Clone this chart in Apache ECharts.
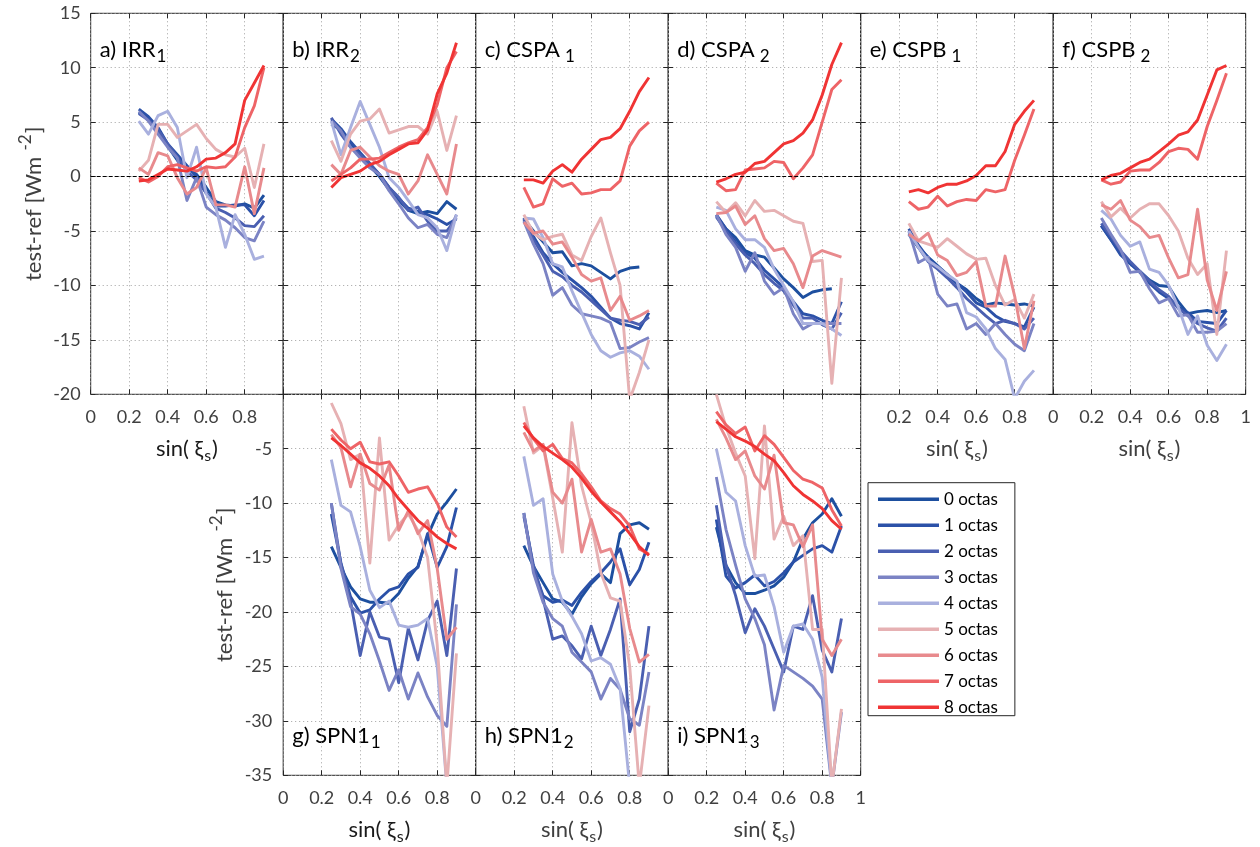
<!DOCTYPE html>
<html>
<head>
<meta charset="utf-8">
<script src="https://cdn.jsdelivr.net/npm/echarts@6/dist/echarts.min.js"></script>
<style>html,body{margin:0;padding:0;background:#fff}#c{width:1260px;height:847px}</style>
</head>
<body>
<div id="c"></div>
<script>
// ---------- data ----------
const xs = [0.25,0.30,0.35,0.40,0.45,0.50,0.55,0.60,0.65,0.70,0.75,0.80,0.85,0.90];
const octaNames = ['0 octas','1 octas','2 octas','3 octas','4 octas','5 octas','6 octas','7 octas','8 octas'];
const xTickLabels = ['0','0.2','0.4','0.6','0.8','1'];
const yTopTicks = [-20,-15,-10,-5,0,5,10,15];
const yBottomTicks = [-35,-30,-25,-20,-15,-10,-5];

const irr1 = [
  [5.9,5.3,4.2,2.8,1.5,0.8,0.2,-1.0,-2.3,-2.6,-2.7,-2.5,-2.9,-1.7],
  [6.2,5.5,4.5,3.0,2.0,1.0,0.0,-1.5,-2.7,-2.7,-2.6,-2.6,-3.6,-2.2],
  [5.8,5.2,4.3,3.0,1.8,0.5,-0.3,-1.5,-2.9,-3.3,-3.8,-4.5,-4.6,-3.6],
  [6.0,5.1,3.9,2.7,1.7,-2.2,-0.1,-2.8,-3.5,-4.0,-4.7,-5.6,-5.9,-4.1],
  [5.1,3.9,5.6,6.0,4.5,-0.1,2.7,-1.6,-2.8,-6.5,-3.5,-5.3,-7.6,-7.3],
  [0.5,1.5,4.8,4.8,3.6,4.2,4.8,3.5,2.5,2.0,1.8,2.6,-1.0,3.0],
  [0.8,0.2,2.2,1.9,-0.1,-1.6,-1.0,0.8,-2.6,-2.6,-2.8,0.9,-3.4,0.8],
  [-0.1,-0.5,0.0,0.9,1.1,0.8,0.5,0.9,0.8,0.9,1.8,4.5,6.5,10.0],
  [-0.4,-0.3,0.2,0.7,0.6,0.5,0.9,1.6,1.7,2.2,3.0,7.0,8.6,10.2]
];
const irr2 = [
  [4.8,4.3,3.0,2.0,1.0,0.0,-1.2,-2.2,-3.1,-3.4,-3.2,-3.4,-2.3,-3.0],
  [5.3,4.4,3.2,2.2,1.2,0.2,-1.0,-2.0,-2.9,-3.2,-3.5,-3.9,-4.4,-3.9],
  [5.4,3.9,2.7,2.0,1.1,0.2,-1.0,-1.9,-3.1,-2.8,-4.1,-5.0,-5.0,-3.8],
  [5.1,4.2,2.7,1.7,0.8,0.2,-1.3,-2.5,-3.8,-4.7,-4.4,-5.3,-5.6,-3.5],
  [5.1,2.0,4.5,6.9,4.8,2.7,-0.1,-1.0,-2.2,-3.5,-3.8,-4.7,-6.8,-3.5],
  [3.3,1.4,3.9,5.1,5.3,6.2,4.0,4.3,4.6,4.6,3.9,6.0,2.4,5.6],
  [1.1,0.2,2.4,2.7,1.8,1.0,0.5,0.2,-1.6,-0.4,2.0,0.2,-1.6,3.0],
  [-0.4,0.2,0.8,1.6,1.6,1.7,2.2,2.7,3.1,3.4,4.5,6.6,10.0,11.5],
  [-1.0,-0.1,0.2,0.5,1.1,1.4,2.0,2.5,3.0,3.1,4.3,7.6,9.5,12.3]
];
const cspa1 = [
  [-3.9,-5.0,-6.0,-7.0,-6.9,-8.2,-8.0,-8.2,-8.8,-9.4,-8.7,-8.4,-8.3],
  [-3.8,-5.5,-7.0,-8.0,-8.8,-9.5,-10.2,-11.0,-12.0,-13.0,-13.5,-13.7,-14.0,-12.5],
  [-3.9,-5.8,-7.2,-8.7,-9.2,-10.0,-10.6,-11.4,-12.2,-13.0,-13.2,-13.3,-13.6,-12.9],
  [-4.1,-6.2,-8.0,-10.9,-10.2,-11.8,-12.6,-12.8,-13.0,-13.4,-15.8,-15.7,-15.2,-14.8],
  [-3.8,-3.9,-5.6,-8.0,-8.3,-10.5,-12.5,-14.5,-16.0,-16.6,-16.2,-16.0,-16.5,-17.7],
  [-3.5,-5.2,-5.8,-5.5,-5.3,-7.2,-7.7,-5.5,-3.8,-7.0,-10.0,-20.5,-18.0,-15.0],
  [-4.2,-5.2,-5.0,-6.2,-6.0,-7.4,-9.0,-9.6,-9.3,-12.3,-11.0,-13.2,-12.8,-12.3],
  [-1.0,-2.8,-2.5,-0.2,-0.9,-0.6,-1.6,-1.5,-1.2,-1.2,-0.4,2.8,4.2,5.0],
  [-0.3,-0.3,-0.6,0.5,1.1,0.4,1.6,2.5,3.4,3.6,4.4,6.0,7.8,9.1]
];
const cspa2 = [
  [-3.6,-4.8,-5.6,-6.8,-7.2,-7.4,-8.4,-9.4,-10.2,-11.1,-10.6,-10.4,-10.3],
  [-3.5,-4.8,-6.0,-7.0,-7.5,-8.6,-9.4,-10.2,-11.5,-12.6,-12.8,-13.2,-13.5,-11.5],
  [-3.7,-5.0,-6.2,-7.2,-8.0,-9.0,-9.8,-10.5,-11.8,-13.0,-13.0,-13.6,-14.0,-12.5],
  [-3.5,-5.3,-6.5,-8.7,-7.0,-9.6,-10.8,-10.2,-12.6,-14.0,-13.5,-13.5,-13.5,-13.5],
  [-2.8,-3.1,-4.8,-5.8,-5.8,-6.5,-8.5,-10.0,-11.5,-13.5,-13.5,-13.5,-14.0,-14.6],
  [-2.3,-3.3,-2.4,-3.6,-2.2,-3.2,-3.1,-3.6,-4.1,-4.3,-7.8,-7.7,-19.0,-9.3],
  [-3.4,-3.3,-2.7,-4.4,-3.6,-5.7,-6.8,-6.6,-8.0,-10.2,-7.3,-6.8,-7.1,-7.4],
  [-0.6,-1.3,-1.2,0.6,0.7,0.8,1.4,1.3,-0.2,0.8,2.0,5.0,8.0,8.9],
  [-0.5,-0.2,0.2,0.4,1.2,1.4,2.2,3.0,3.3,4.0,5.2,7.5,10.3,12.3]
];
const cspb1 = [
  [-5.3,-6.5,-7.4,-8.2,-9.0,-9.8,-10.4,-11.2,-11.8,-11.6,-11.7,-11.8,-11.7,-11.9],
  [-4.8,-6.3,-7.5,-8.3,-9.0,-9.8,-10.6,-11.6,-12.0,-12.8,-13.3,-13.5,-13.8,-12.0],
  [-5.2,-6.5,-7.8,-8.5,-9.3,-10.2,-11.2,-12.0,-12.8,-13.5,-13.2,-13.5,-14.0,-13.0],
  [-5.0,-7.9,-7.4,-10.8,-11.9,-11.7,-14.0,-13.5,-14.5,-13.5,-14.5,-15.4,-16.0,-13.5],
  [-5.0,-6.5,-7.7,-8.3,-9.0,-9.6,-12.5,-12.9,-14.0,-15.8,-16.8,-20.4,-18.8,-17.8],
  [-4.3,-5.9,-6.2,-6.5,-5.7,-6.4,-7.1,-7.6,-7.5,-10.0,-11.8,-11.3,-13.0,-10.8],
  [-5.3,-5.9,-5.2,-7.2,-7.7,-9.1,-8.8,-7.8,-11.9,-11.9,-7.3,-11.0,-15.8,-11.4],
  [-2.3,-3.0,-2.8,-1.8,-2.7,-2.3,-2.1,-2.2,-1.2,-1.4,-1.2,1.5,3.8,6.2],
  [-1.4,-1.2,-1.5,-1.0,-0.7,-0.7,-0.4,0.1,1.0,1.0,2.3,4.8,6.0,7.0]
];
const cspb2 = [
  [-4.5,-5.8,-7.0,-8.0,-8.7,-9.5,-10.0,-10.1,-11.5,-12.6,-12.4,-12.3,-12.5,-12.3],
  [-4.5,-5.8,-7.2,-8.0,-8.8,-9.8,-10.6,-11.2,-12.0,-12.5,-13.3,-13.4,-13.5,-12.3],
  [-4.3,-5.5,-6.8,-7.8,-8.7,-9.6,-10.4,-11.0,-12.1,-12.8,-13.5,-13.9,-14.2,-13.0],
  [-3.8,-5.3,-6.7,-8.8,-8.7,-10.3,-11.6,-11.2,-12.8,-12.7,-14.3,-14.3,-14.2,-13.5],
  [-3.1,-3.9,-5.4,-6.4,-6.0,-8.5,-8.8,-10.0,-12.0,-14.5,-12.8,-15.5,-16.9,-15.4],
  [-2.3,-3.7,-2.9,-3.8,-3.0,-2.5,-2.5,-3.6,-5.0,-7.5,-9.0,-8.0,-14.5,-6.8],
  [-2.6,-3.0,-2.2,-4.0,-4.6,-5.6,-5.4,-7.5,-9.3,-9.0,-3.0,-9.5,-12.3,-8.7],
  [-0.3,-0.7,-0.5,0.5,0.6,0.6,1.3,2.3,2.6,2.5,1.6,4.6,7.0,9.5],
  [-0.3,0.1,0.3,0.8,1.3,1.6,2.3,3.0,3.8,4.1,5.2,7.5,9.8,10.2]
];
const spn1a = [
  [-14.0,-15.9,-17.7,-18.8,-19.1,-19.1,-19.2,-18.3,-16.9,-15.8,-13.0,-11.0,-9.9,-8.7],
  [-11.0,-15.5,-18.6,-20.1,-19.8,-18.8,-18.0,-17.7,-16.5,-15.9,-12.8,-15.9,-14.0,-10.4],
  [-10.0,-15.6,-19.0,-24.0,-20.0,-22.3,-22.5,-26.5,-21.5,-24.4,-20.8,-19.0,-24.0,-16.0],
  [-10.0,-16.0,-19.5,-20.2,-22.0,-24.5,-27.2,-25.3,-28.0,-25.6,-27.8,-29.5,-30.5,-19.3],
  [-6.0,-10.2,-10.8,-14.0,-18.0,-19.6,-19.0,-21.2,-21.4,-21.2,-20.6,-25.0,-36.0],
  [-0.8,-2.7,-6.0,-5.5,-15.5,-4.0,-13.4,-12.0,-11.0,-12.5,-15.0,-23.0,-36.0,-23.8],
  [-3.7,-4.9,-8.5,-5.5,-8.2,-8.8,-6.5,-12.5,-10.7,-12.8,-11.6,-16.0,-22.5,-21.4],
  [-3.2,-4.2,-5.0,-4.4,-6.2,-6.4,-6.2,-7.5,-9.0,-8.7,-8.5,-10.0,-12.2,-13.1],
  [-4.0,-4.7,-5.5,-6.3,-6.8,-7.5,-8.4,-9.6,-10.6,-11.6,-12.3,-13.1,-13.7,-14.2]
];
const spn1b = [
  [-13.9,-15.8,-17.3,-18.8,-19.1,-20.2,-18.6,-17.4,-16.5,-17.3,-12.8,-12.0,-11.8,-12.4],
  [-10.9,-16.0,-18.5,-19.1,-18.9,-19.4,-18.2,-17.2,-16.4,-15.4,-14.2,-17.5,-16.1,-13.6],
  [-11.2,-15.7,-18.8,-22.5,-22.2,-23.1,-24.3,-21.3,-24.0,-21.6,-18.8,-31.0,-28.0,-21.3],
  [-10.9,-16.4,-19.1,-20.6,-21.3,-23.7,-24.6,-25.5,-28.0,-26.1,-27.1,-29.8,-30.4,-25.5],
  [-5.7,-10.2,-9.6,-16.5,-19.0,-20.4,-22.0,-24.5,-24.2,-24.8,-27.0,-36.0],
  [-1.1,-5.4,-4.7,-9.5,-14.5,-2.6,-8.4,-11.8,-16.4,-18.7,-19.0,-25.0,-36.0,-28.6],
  [-3.5,-5.2,-4.6,-9.0,-10.0,-7.8,-14.5,-11.5,-14.5,-14.2,-16.5,-21.5,-24.6,-23.9],
  [-2.6,-4.1,-5.2,-4.6,-5.9,-6.3,-7.3,-8.5,-9.8,-10.5,-11.0,-12.1,-14.2,-14.7],
  [-2.9,-4.0,-4.8,-5.4,-6.0,-6.7,-7.7,-8.9,-9.9,-10.8,-11.7,-12.8,-14.0,-14.8]
];
const spn1c = [
  [-12.2,-15.7,-17.3,-18.3,-18.3,-18.0,-17.6,-16.8,-15.4,-13.3,-11.8,-11.0,-9.6,-11.2],
  [-11.5,-16.7,-17.8,-17.3,-16.6,-17.6,-17.2,-16.4,-15.4,-14.8,-14.2,-13.9,-14.5,-12.1],
  [-10.2,-15.7,-18.5,-21.9,-19.7,-21.3,-23.4,-25.5,-21.3,-21.6,-18.5,-23.5,-25.5,-20.6],
  [-7.6,-12.4,-15.7,-18.8,-20.6,-23.0,-29.0,-24.9,-25.5,-26.1,-26.8,-28.0,-36.0,-29.2],
  [-5.0,-9.0,-9.8,-13.9,-16.7,-16.6,-19.5,-23.7,-21.3,-21.1,-22.5,-26.0,-36.0],
  [0.0,-3.0,-5.4,-7.5,-15.1,-2.9,-13.3,-11.2,-13.9,-13.0,-21.6,-21.6,-36.0,-28.9],
  [-2.3,-4.0,-6.0,-5.2,-7.5,-8.7,-5.6,-11.8,-12.0,-14.0,-12.0,-22.5,-24.0,-22.5],
  [-1.6,-2.8,-3.6,-3.0,-5.2,-3.8,-4.6,-5.8,-7.0,-7.8,-8.1,-8.6,-10.6,-12.1],
  [-2.5,-3.2,-3.9,-4.3,-4.8,-5.5,-6.1,-7.2,-8.4,-9.2,-9.8,-10.5,-11.6,-12.4]
];

// ---------- style / layout ----------
const colors = ['#1d4f9f','#2b51a8','#4a5fb1','#7b83c4','#a9b0de','#e6b1b3','#e88a8d','#ee6467','#f03434'];
const FONT = 'Lato, "Noto Sans", "DejaVu Sans", sans-serif';
const TICKC = '#404040';
const W = 192.5, H = 381;
const colLeft = [90.7, 283.2, 475.7, 668.2, 860.7, 1053.2];
const rowTop = [13.3, 394.3];

const panels = [
  {d: irr1,  c:0, r:0, t:'a) IRR',  sub:'1', gap:1, xl:['0','0.2','0.4','0.6','0.8'], yl:true, xname:'#1a1a1a'},
  {d: irr2,  c:1, r:0, t:'b) IRR',  sub:'2', gap:1, xl:[], yl:false},
  {d: cspa1, c:2, r:0, t:'c) CSPA', sub:'1', gap:5, xl:[], yl:false},
  {d: cspa2, c:3, r:0, t:'d) CSPA', sub:'2', gap:5, xl:[], yl:false},
  {d: cspb1, c:4, r:0, t:'e) CSPB', sub:'1', gap:5, xl:['0.2','0.4','0.6','0.8'], yl:false, xname:'#404040'},
  {d: cspb2, c:5, r:0, t:'f) CSPB', sub:'2', gap:5, xl:['0','0.2','0.4','0.6','0.8','1'], yl:false, xname:'#404040'},
  {d: spn1a, c:1, r:1, t:'g) SPN1', sub:'1', gap:1, xl:['0','0.2','0.4','0.6','0.8'], yl:true, xname:'#1a1a1a'},
  {d: spn1b, c:2, r:1, t:'h) SPN1', sub:'2', gap:1, xl:['0','0.2','0.4','0.6','0.8'], yl:false, xname:'#404040'},
  {d: spn1c, c:3, r:1, t:'i) SPN1', sub:'3', gap:1, xl:['0','0.2','0.4','0.6','0.8','1'], yl:false, xname:'#404040'}
];

function fmtX(v){ const r = Math.round(v*10)/10; return r===0?'0':(r===1?'1':String(r)); }

// text measurement for sub/superscript layout
const mctx = document.createElement('canvas').getContext('2d');
function tw(t,size){ mctx.font = size+'px '+FONT; return mctx.measureText(t).width; }
// pieces: [{t,size,dy,pre}], baseline at local y=0; anchor 'left' or 'center'
function richGroup(pieces, x, y, rot, anchor, color){
  let total = 0; const ws = pieces.map(p=>{ const w = tw(p.t,p.size); total += (p.pre||0) + w; return w; });
  let cx = anchor==='center' ? -total/2 : 0;
  const children = pieces.map((p,i)=>{
    cx += (p.pre||0);
    const el = {type:'text', x:cx, y:(p.dy||0) - 0.30*p.size, silent:true,
      style:{text:p.t, fontSize:p.size, fontFamily:FONT, fill:color, align:'left', verticalAlign:'middle'}};
    cx += ws[i];
    return el;
  });
  return {type:'group', x:x, y:y, rotation:rot||0, z:10, silent:true, children:children};
}

const grids=[], xAxes=[], yAxes=[], series=[], graphics=[];
panels.forEach((p,k)=>{
  const left = colLeft[p.c], top = rowTop[p.r];
  grids.push({left:left, top:top, width:W, height:H, show:true, borderColor:'#262626', borderWidth:1, backgroundColor:'transparent', containLabel:false});
  const ymin = p.r===0 ? yTopTicks[0] : yBottomTicks[0];
  const ymax = p.r===0 ? yTopTicks[yTopTicks.length-1] : 0;
  const xl = p.xl;
  xAxes.push({
    type:'value', gridIndex:k, min:0, max:1, interval:0.2, position:'bottom',
    axisLine:{show:false, onZero:false},
    axisTick:{show:true, inside:true, length:5, lineStyle:{color:'#262626'}},
    splitLine:{show:true, lineStyle:{type:[1,3], color:'#a0a0a0', width:1}},
    axisLabel:{show: xl.length>0, margin:14, color:TICKC, fontSize:18, fontFamily:FONT, showMinLabel:true, showMaxLabel:true,
      formatter:(v)=>{ const s=fmtX(v); return xl.indexOf(s)>=0 && xTickLabels.indexOf(s)>=0 ? s : ''; }}
  });
  xAxes.push({type:'value', gridIndex:k, min:0, max:1, interval:0.2, position:'top',
    axisLine:{show:false, onZero:false}, axisTick:{show:true, inside:true, length:5, lineStyle:{color:'#262626'}},
    splitLine:{show:false}, axisLabel:{show:false}});
  const yticks = p.r===0 ? yTopTicks : yBottomTicks;
  yAxes.push({type:'value', gridIndex:k, min:ymin, max:ymax, interval:5, position:'left',
    axisLine:{show:false, onZero:false},
    axisTick:{show:true, inside:true, length:5, lineStyle:{color:'#262626'}},
    splitLine:{show:true, lineStyle:{type:[1,3], color:'#a0a0a0', width:1}},
    axisLabel:{show:p.yl, margin:p.r===0?10:11, color:TICKC, fontSize:18, fontFamily:FONT, showMinLabel:true, showMaxLabel:true,
      formatter:(v)=> yticks.indexOf(Math.round(v))>=0 ? String(Math.round(v)) : ''}});
  yAxes.push({type:'value', gridIndex:k, min:ymin, max:ymax, interval:5, position:'right',
    axisLine:{show:false, onZero:false}, axisTick:{show:true, inside:true, length:5, lineStyle:{color:'#262626'}},
    splitLine:{show:false}, axisLabel:{show:false}});

  p.d.forEach((vals,j)=>{
    const s = {
      type:'line', name:octaNames[j], xAxisIndex:2*k, yAxisIndex:2*k,
      data: vals.map((v,i)=>[xs[i], v]),
      symbol:'none', showSymbol:false, clip:true, silent:true, animation:false,
      lineStyle:{color:colors[j], width:2.9, join:'round'}, itemStyle:{color:colors[j]}, z:3
    };
    if (j===0 && p.r===0){
      s.markLine = {silent:true, symbol:['none','none'], animation:false, label:{show:false},
        lineStyle:{color:'#000', type:[4,2], width:1}, data:[{yAxis:0}]};
    }
    series.push(s);
  });

  // panel title with subscript
  const base = p.r===0 ? top + 43.4 : top + H - 32.4;
  graphics.push(richGroup([{t:p.t,size:22,dy:0},{t:p.sub,size:17,dy:5,pre:p.gap}], left+9, base, 0, 'left', '#000'));
  // x axis title
  if (p.xname){
    graphics.push(richGroup([{t:'sin( ξ',size:22,dy:0},{t:'s',size:16,dy:5,pre:1},{t:')',size:22,dy:0,pre:1}],
      left+W/2, top+H+61, 0, 'center', p.xname));
  }
});

// y axis titles (rotated)
graphics.push(richGroup([{t:'test-ref [Wm',size:22,dy:0},{t:' -2',size:17,dy:-10,pre:2},{t:']',size:22,dy:0,pre:1}],
  40.5, rowTop[0]+H/2, Math.PI/2, 'center', TICKC));
graphics.push(richGroup([{t:'test-ref [Wm',size:22,dy:0},{t:' -2',size:17,dy:-10,pre:2},{t:']',size:22,dy:0,pre:1}],
  232, rowTop[1]+H/2, Math.PI/2, 'center', TICKC));

const chart = echarts.init(document.getElementById('c'), null, {renderer:'canvas'});
chart.setOption({
  animation:false,
  backgroundColor:'#fff',
  grid:grids, xAxis:xAxes, yAxis:yAxes, series:series, graphic:graphics,
  legend:{show:true, orient:'vertical', left:868, top:482.7, data:octaNames, icon:'rect',
    itemWidth:61, itemHeight:3.5, itemGap:9, padding:[8,17,0,10],
    borderColor:'#262626', borderWidth:1, backgroundColor:'#fff', selectedMode:false,
    textStyle:{fontSize:17, color:'#000', fontFamily:FONT}}
});
</script>
</body>
</html>
